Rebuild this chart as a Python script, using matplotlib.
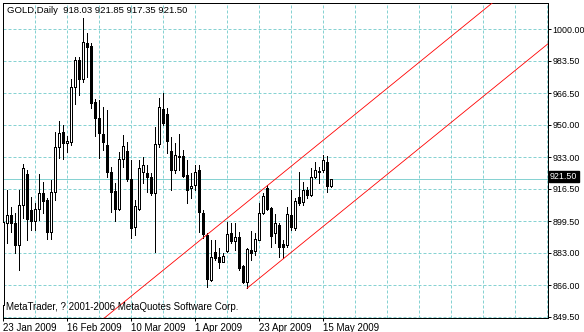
import numpy as np
from matplotlib import pyplot as plt

# daily GOLD bars, 23 Jan 2009 .. 19 May 2009
opens = [856.0, 898.4, 902.8, 898.4, 887.1, 908.0, 924.2, 905.4, 899.8, 905.8,
         914.1, 910.6, 894.1, 914.6, 938.5, 946.3, 940.2, 941.1, 969.5, 983.8,
         973.9, 992.9, 991.1, 961.7, 953.7, 945.1, 939.4, 925.1, 915.3, 905.8,
         931.9, 936.2, 921.4, 896.4, 905.9, 925.4, 924.6, 922.5, 914.1, 939.7,
         958.0, 955.6, 936.2, 926.3, 933.3, 933.8, 923.7, 916.7, 918.5, 926.3,
         903.7, 892.3, 868.8, 883.3, 881.0, 878.4, 884.2, 893.2, 889.4, 891.5,
         876.3, 868.0, 884.5, 884.2, 889.7, 904.0, 916.7, 906.3, 893.2, 897.6,
         887.5, 887.1, 902.8, 895.8, 912.0, 909.8, 915.9, 913.3, 922.8, 926.0,
         926.3, 930.7, 918.03]
highs = [904.0, 915.9, 907.2, 903.7, 915.9, 929.5, 926.3, 912.4, 908.9, 924.2,
         920.2, 911.5, 921.1, 946.3, 951.9, 949.8, 944.1, 973.7, 985.5, 985.5,
         1005.6, 997.7, 992.5, 963.2, 962.9, 959.4, 957.7, 928.1, 919.4, 935.9,
         944.6, 941.1, 931.5, 910.6, 931.5, 933.3, 928.9, 924.6, 948.9, 963.8,
         966.4, 958.5, 943.7, 940.2, 945.1, 936.8, 931.5, 924.6, 928.9, 928.9,
         905.4, 893.2, 889.7, 889.7, 885.4, 883.1, 899.3, 898.4, 898.4, 894.1,
         876.7, 885.4, 894.6, 893.2, 908.9, 914.1, 918.5, 907.2, 903.3, 898.4,
         889.7, 907.2, 915.9, 911.5, 925.1, 919.9, 917.6, 927.2, 930.7, 928.1,
         934.2, 933.8, 921.85]
lows = [852.0, 888.0, 894.1, 882.8, 874.1, 901.1, 889.7, 895.0, 895.0, 900.2,
        903.7, 890.3, 890.3, 910.6, 932.4, 932.2, 935.9, 939.4, 960.8, 965.5,
        972.5, 975.1, 958.5, 944.1, 932.4, 936.8, 922.8, 904.5, 899.8, 905.4,
        928.1, 920.7, 890.9, 892.3, 905.4, 919.4, 915.0, 913.3, 883.6, 938.5,
        949.8, 935.4, 915.9, 924.6, 926.3, 922.8, 908.9, 911.5, 915.9, 894.1,
        890.6, 865.3, 868.5, 879.3, 874.9, 878.1, 883.6, 888.0, 884.5, 874.1,
        867.1, 864.5, 879.3, 881.9, 889.7, 903.3, 905.4, 885.9, 888.0, 880.7,
        880.2, 886.2, 895.0, 895.0, 908.0, 908.0, 911.5, 912.7, 922.0, 919.7,
        925.4, 915.0, 917.35]
closes = [899.0, 902.8, 898.4, 887.1, 908.0, 927.2, 900.5, 899.8, 905.8, 914.1,
          910.3, 894.1, 914.6, 938.2, 945.8, 940.6, 941.6, 969.5, 983.8, 973.7,
          993.4, 990.8, 961.5, 953.3, 945.5, 941.1, 925.4, 915.0, 905.9, 932.1,
          938.9, 921.4, 895.8, 907.5, 927.2, 928.9, 922.8, 914.5, 939.7, 959.1,
          951.0, 941.5, 926.3, 934.2, 933.8, 923.2, 915.9, 917.9, 925.4, 904.2,
          892.9, 869.2, 880.7, 880.2, 878.4, 881.4, 892.9, 889.2, 891.1, 875.3,
          868.0, 884.9, 882.8, 890.1, 903.7, 912.7, 905.9, 891.8, 898.4, 885.9,
          885.9, 903.3, 896.4, 910.3, 909.2, 915.9, 913.3, 922.8, 926.3, 925.1,
          931.5, 918.1, 921.50]

date_pos = [0, 16, 32, 48, 64, 80]
date_labels = ['23 Jan 2009', '16 Feb 2009', '10 Mar 2009', '1 Apr 2009',
               '23 Apr 2009', '15 May 2009']
price_ticks = [1000.00, 983.50, 966.50, 950.00, 933.00, 916.50, 899.50,
               883.00, 866.00, 849.50]

# equidistant channel: anchored on the low of bar 61
chan_start = 61
chan_base = 864.5
chan_slope = 1.698
chan_width = 45.0

grid_col = '#86d2d2'
W, H = 584, 332

plt.rcParams['font.family'] = ['Liberation Sans', 'DejaVu Sans']

fig = plt.figure(figsize=(W / 100, H / 100), dpi=100)
fig.patch.set_facecolor('white')
ax = fig.add_axes([2.5 / W, 1 - 318.3 / H, (548.3 - 2.5) / W, (318.3 - 3) / H])

o = np.array(opens)
h = np.array(highs)
l = np.array(lows)
c = np.array(closes)
x = np.arange(len(c))

ax.set_xlim(-0.125, 136.33)
ax.set_ylim(848.8, 1013.6)

# grid
for p in price_ticks:
	ax.axhline(p, color=grid_col, lw=0.72, ls=(0, (3, 2)), zorder=1, snap=True)
for g in range(8, 137, 8):
	ax.axvline(g, color=grid_col, lw=0.72, ls=(0, (3, 2)), zorder=1, snap=True)
ax.axhline(c[-1], color=grid_col, lw=0.72, zorder=1, snap=True)

# candles
ax.vlines(x, l, h, color='black', lw=0.72, zorder=3, antialiased=False)
up = c >= o
ax.bar(x, np.abs(c - o), bottom=np.minimum(o, c), width=0.5,
       color=np.where(up, 'white', 'black'), edgecolor='black', lw=0.72,
       zorder=4, antialiased=False)

# channel lines
xs = np.array([chan_start, 140])
ax.plot(xs, chan_base + chan_slope * (xs - chan_start), color='red', lw=0.6,
        zorder=5)
xu = np.array([15, 140])
ax.plot(xu, chan_base + chan_width + chan_slope * (xu - chan_start), color='red',
        lw=0.6, zorder=5)

for s in ax.spines.values():
	s.set_color('black')
	s.set_linewidth(0.72)

ax.yaxis.tick_right()
ax.set_yticks(price_ticks)
ax.set_yticklabels(['%.2f' % p for p in price_ticks])
ax.tick_params(axis='y', direction='out', length=2.2, width=0.72, pad=0.8,
               labelsize=6.4, colors='black')
ax.set_xticks(date_pos)
ax.set_xticklabels(date_labels)
ax.tick_params(axis='x', direction='out', length=2.2, width=0.72, pad=1.0,
               labelsize=7.0, colors='black')
for t in ax.get_xticklabels():
	t.set_horizontalalignment('left')

# last price box
ax.text(1.003, c[-1] + 1.4, '%.2f' % c[-1], transform=ax.get_yaxis_transform(),
        ha='left', va='center', color='white', fontsize=6.4, zorder=10,
        bbox=dict(boxstyle='square,pad=0.15', fc='black', ec='black'),
        clip_on=False)

fig.text(7 / W, 1 - 10.5 / H, 'GOLD,Daily  %.2f %.2f %.2f %.2f' % (o[-1], h[-1], l[-1], c[-1]),
         ha='left', va='center', fontsize=6.8, color='black')
fig.text(6 / W, 1 - 307.5 / H, 'MetaTrader, ? 2001-2006 MetaQuotes Software Corp.',
         ha='left', va='center', fontsize=7.0, color='black')

fig.savefig('out.png', dpi=100, facecolor='white')
